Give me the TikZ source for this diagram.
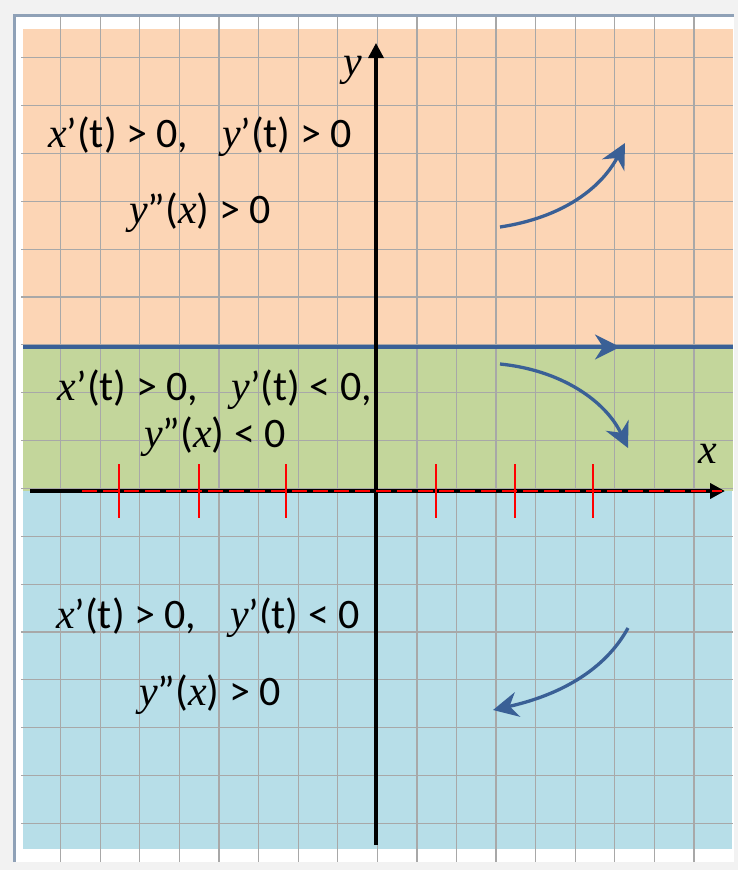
\documentclass[tikz,border=0pt]{standalone}
\usepackage{fontspec}
\setmainfont{Carlito}
\newfontfamily\varfont{Liberation Serif}
\usetikzlibrary{arrows.meta}
\definecolor{peachzone}{HTML}{FCD5B5}
\definecolor{olivezone}{HTML}{C3D69B}
\definecolor{aquazone}{HTML}{B7DEE8}
\definecolor{flowblue}{HTML}{3A6096}
\definecolor{gridgray}{HTML}{A8A8A8}
\definecolor{framegray}{HTML}{8FA1B7}
\definecolor{papergray}{HTML}{F2F2F2}
\newcommand{\xvar}{{\varfont\itshape x}}
\newcommand{\yvar}{{\varfont\itshape y}}
\tikzset{
  cond/.style={anchor=base, inner sep=0pt, font=\fontsize{42}{45}\selectfont},
  flowarrow/.style={flowblue, line width=3.3pt, -{Stealth[length=25pt,width=25pt,inset=8pt]}},
  axisarrow/.style={line width=3.3pt, -{Triangle[length=15pt,width=15pt]}}
}
\begin{document}
\begin{tikzpicture}[x=1pt,y=-1pt]
    \useasboundingbox (0,0) rectangle (738,870);
    \fill[papergray] (0,0) rectangle (738,870);
    \fill[white] (14,15) rectangle (734,862);
    \draw[framegray, line width=3pt] (14,862) -- (14,15) -- (734,15);
    % zones
    \fill[peachzone] (23,29) rectangle (733,347);
    \fill[olivezone] (23,347) rectangle (733,491);
    \fill[aquazone] (23,491) rectangle (732,849);
    % grid
    \foreach \i in {0,...,16}
        \draw[gridgray, line width=1.2pt] ({60.7+39.58*\i},17) -- ({60.7+39.58*\i},862);
    \foreach \j in {0,...,16}
        \draw[gridgray, line width=1.2pt] (21,{57.7+47.86*\j}) -- (733,{57.7+47.86*\j});
    % boundary y = const
    \draw[flowblue, line width=3.3pt] (23,347) -- (733,347);
    \draw[flowarrow] (563,347) -- (620,347);
    % axes
    \draw[axisarrow, line width=4pt] (30,491) -- (725,491);
    \draw[axisarrow] (376,845) -- (376,43);
    \draw[red, line width=2pt, dash pattern=on 15pt off 6pt] (82,491) -- (722,491);
    \foreach \tk in {119,199,286,436,515,593}
        \draw[red, line width=2pt] (\tk,464) -- (\tk,518);
    \node[cond] (xlab) at (708,463) {\xvar};
    \node[cond] (ylab) at (353,75) {\yvar};
    % conditions
    \node[cond] (upa) at (200,147) {\xvar’(t) > 0,\hspace{0.8em}\yvar’(t) > 0};
    \node[cond] (upb) at (200,223) {\yvar”(\xvar) > 0};
    \node[cond] (mida) at (215,400) {\xvar’(t) > 0,\hspace{0.8em}\yvar’(t) < 0,};
    \node[cond] (midb) at (215,447) {\yvar”(\xvar) < 0};
    \node[cond] (lowa) at (208,628) {\xvar’(t) > 0,\hspace{0.8em}\yvar’(t) < 0};
    \node[cond] (lowb) at (210,705) {\yvar”(\xvar) > 0};
    % trajectories
    \draw[flowarrow] (500,227) .. controls (560,218) and (600,190) .. (625,143);
    \draw[flowarrow] (500,364) .. controls (560,370) and (605,400) .. (628,448);
    \draw[flowarrow] (628,628) .. controls (605,670) and (560,695) .. (493,710);
\end{tikzpicture}
\end{document}
